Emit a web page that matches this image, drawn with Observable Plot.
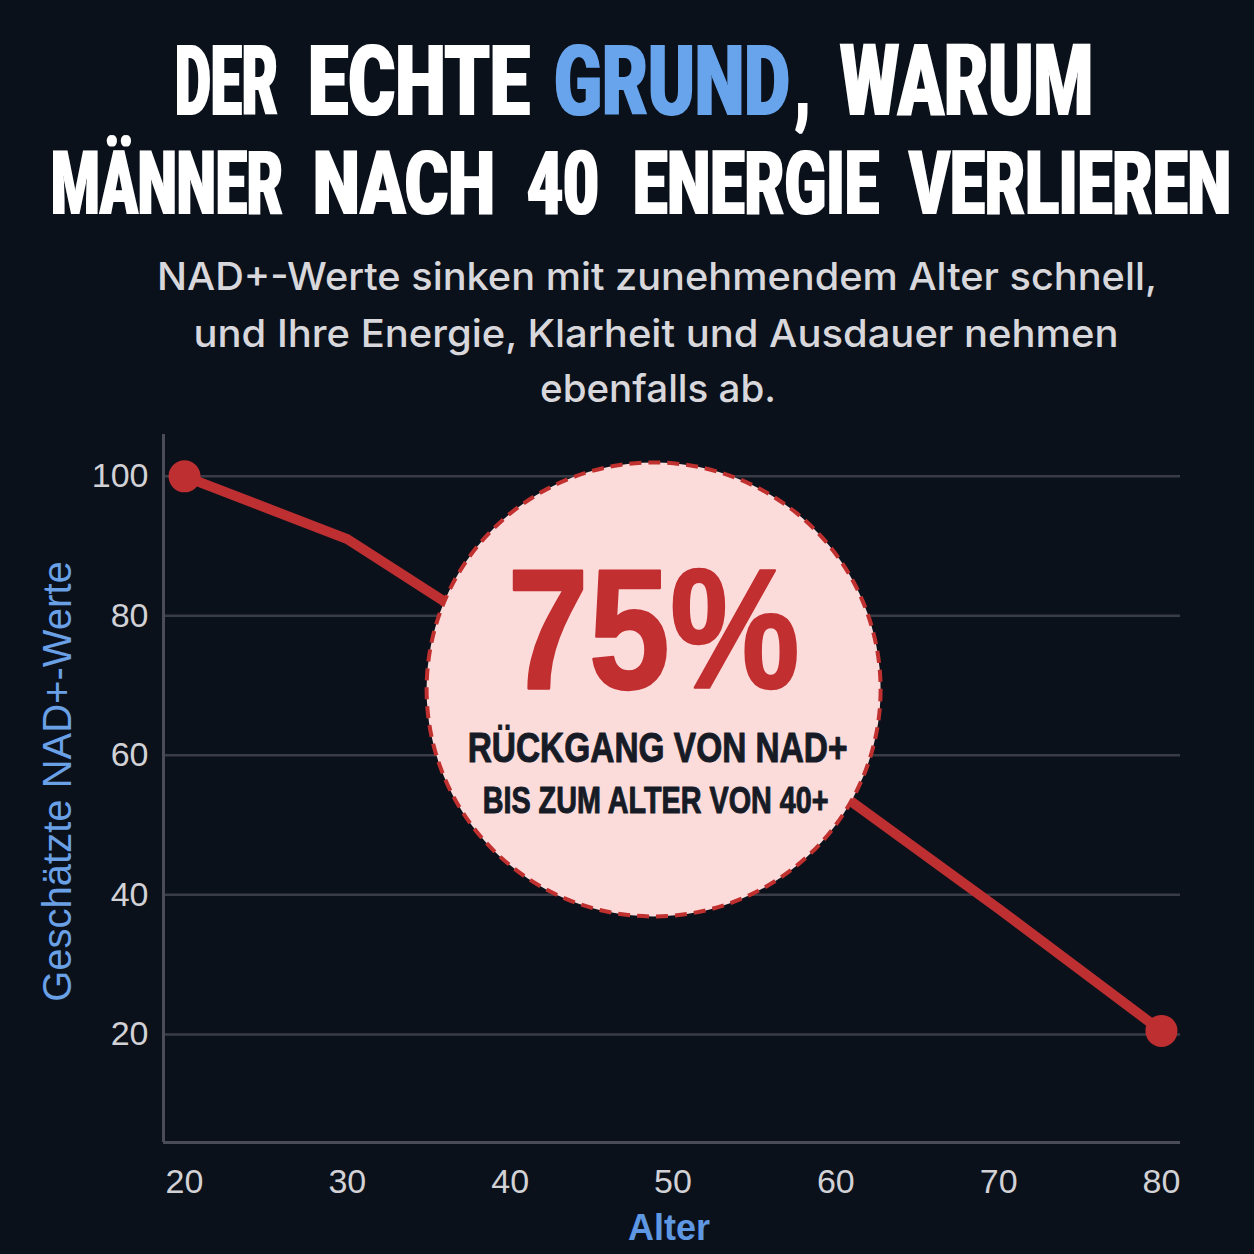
<!DOCTYPE html>
<html><head><meta charset="utf-8">
<script src="https://cdn.jsdelivr.net/npm/d3@7"></script>
<script src="https://cdn.jsdelivr.net/npm/@observablehq/plot@0.6"></script>
<style>
html,body{margin:0;padding:0;background:#0b111b;}
#wrap{width:1254px;height:1254px;overflow:hidden;background:#0b111b;}
svg{display:block}
</style></head><body><div id="wrap">
<svg id="head" width="1254" height="420" xmlns="http://www.w3.org/2000/svg">
  <defs>
    <filter id="fatX" x="-5%" y="-5%" width="110%" height="110%">
      <feMorphology operator="dilate" radius="1.1 0.3"/>
    </filter>
  </defs>
  <g id="title" font-family="Roboto,'Liberation Sans',Arial,sans-serif" font-weight="900" fill="#ffffff" filter="url(#fatX)">
    <text x="175" y="115" font-size="60" data-w="103" data-cap="71">DER</text>
    <text x="308" y="115" font-size="60" data-w="222" data-cap="71">ECHTE</text>
    <text x="554" y="115" font-size="60" data-w="236" data-cap="71" fill="#68a4ec">GRUND</text>
    <text x="795" y="115" font-size="60" data-w="15" data-cap="71">,</text>
    <text x="840" y="115" font-size="60" data-w="253" data-cap="71">WARUM</text>
    <text x="51" y="214" font-size="60" data-w="232" data-cap="64">MÄNNER</text>
    <text x="313" y="214" font-size="60" data-w="182" data-cap="64">NACH</text>
    <text x="527" y="214" font-size="60" data-w="72" data-cap="64">40</text>
    <text x="633" y="214" font-size="60" data-w="246" data-cap="64">ENERGIE</text>
    <text x="909" y="214" font-size="60" data-w="322" data-cap="64">VERLIEREN</text>
  </g>
  <g font-family="Inter,'Liberation Sans',Arial,sans-serif" font-weight="500" font-size="38" fill="#d8d8dc" text-anchor="middle">
    <text x="657" y="290" textLength="1000" lengthAdjust="spacingAndGlyphs">NAD+-Werte sinken mit zunehmendem Alter schnell,</text>
    <text x="656" y="347" textLength="925" lengthAdjust="spacingAndGlyphs">und Ihre Energie, Klarheit und Ausdauer nehmen</text>
    <text x="658" y="402" textLength="236" lengthAdjust="spacingAndGlyphs">ebenfalls ab.</text>
  </g>
</svg>
<div id="chart"></div>
</div>
<script>
// Data
const ages = [20, 30, 40, 50, 60, 70, 80];
const nadValues = [100, 91, 76, 66, 55, 38, 20.5];
const xTicks = [20, 30, 40, 50, 60, 70, 80];
const yTicks = [20, 40, 60, 80, 100];
const calloutPct = "75%";
const calloutLine1 = "RÜCKGANG VON NAD+";
const calloutLine2 = "BIS ZUM ALTER VON 40+";
const xLabel = "Alter";
const yLabel = "Geschätzte NAD+-Werte";

const data = ages.map((a, i) => ({age: a, nad: nadValues[i]}));
const ends = [data[0], data[data.length - 1]];
const callout = [{age: 48.81, nad: 69.45}];

const xDomain = [18.71, 81.17];
const yDomain = [4.5, 106];
const red = "#be2f31";
const condensed = "'Liberation Sans Narrow','Liberation Sans',Arial,sans-serif";
const CAP = 0.716;

const chart = Plot.plot({
  width: 1254,
  height: 834,
  marginTop: 14,
  marginBottom: 112,
  marginLeft: 163,
  marginRight: 74,
  style: {background: "transparent", fontFamily: "'Liberation Sans',Arial,sans-serif", color: "#d2d2d6", overflow: "visible"},
  x: {domain: xDomain},
  y: {domain: yDomain},
  marks: [
    Plot.gridY(yTicks, {stroke: "#393c46", strokeOpacity: 1, strokeWidth: 2.5}),
    Plot.ruleX([xDomain[0]], {stroke: "#4a4d57", strokeWidth: 3}),
    Plot.ruleY([yDomain[0]], {stroke: "#4a4d57", strokeWidth: 3}),
    Plot.axisY(yTicks, {tickSize: 0, tickPadding: 15, fontSize: 34, fill: "#d2d2d6", label: null}),
    Plot.axisX(xTicks, {tickSize: 0, tickPadding: 26, fontSize: 34, fill: "#d2d2d6", label: null}),
    Plot.text([xLabel], {frameAnchor: "bottom", dy: 97, dx: -3, fontSize: 36, fontWeight: 700, fill: "#5e97e2"}),
    Plot.text([yLabel], {frameAnchor: "left", textAnchor: "middle", dx: -105, dy: -7, rotate: -90, fontSize: 40, fill: "#6aa0e6"}),
    Plot.line(data, {x: "age", y: "nad", stroke: red, strokeWidth: 10, strokeLinejoin: "round", strokeLinecap: "round"}),
    Plot.dot(ends, {x: "age", y: "nad", r: 16, fill: red}),
    Plot.dot(callout, {x: "age", y: "nad", r: 227, fill: "#fcdcdb", stroke: "#c0302f", strokeWidth: 4, strokeDasharray: "12,7"}),
    Plot.text(callout, {x: "age", y: "nad", text: () => calloutPct, lineAnchor: "bottom", dy: -1, fontSize: 140, fontWeight: 700, fontFamily: condensed, fill: "#c22f30", stroke: "#c22f30", strokeWidth: 2}),
    Plot.text(callout, {x: "age", y: "nad", text: () => calloutLine1, lineAnchor: "bottom", dy: 73, dx: 4, fontSize: 36, fontWeight: 700, fontFamily: condensed, fill: "#161b26", stroke: "#161b26", strokeWidth: 0.8}),
    Plot.text(callout, {x: "age", y: "nad", text: () => calloutLine2, lineAnchor: "bottom", dy: 124, dx: 2, fontSize: 30, fontWeight: 700, fontFamily: condensed, fill: "#161b26", stroke: "#161b26", strokeWidth: 0.8})
  ]
});
document.getElementById("chart").appendChild(chart);

// Fit text to a target width and cap height (tall condensed look)
function fitText(t, w, cap, useAttrY) {
  const F0 = parseFloat(getComputedStyle(t).fontSize);
  const L = t.getComputedTextLength();
  if (!L) return;
  const F = F0 * w / L;
  t.style.fontSize = F + "px";
  const sy = cap / (CAP * F);
  if (useAttrY) {
    const y = +t.getAttribute("y");
    t.setAttribute("transform", `translate(0,${y * (1 - sy)}) scale(1,${sy})`);
  } else {
    t.setAttribute("transform", (t.getAttribute("transform") || "") + ` scale(1,${sy})`);
  }
}
document.querySelectorAll("#title text").forEach(t => fitText(t, +t.dataset.w, +t.dataset.cap, true));
const fits = {[calloutPct]: [292, 122], [calloutLine1]: [380, 30], [calloutLine2]: [346, 27]};
chart.querySelectorAll("text").forEach(t => {
  const f = fits[t.textContent];
  if (f) fitText(t, f[0], f[1], false);
});
</script>
</body></html>
